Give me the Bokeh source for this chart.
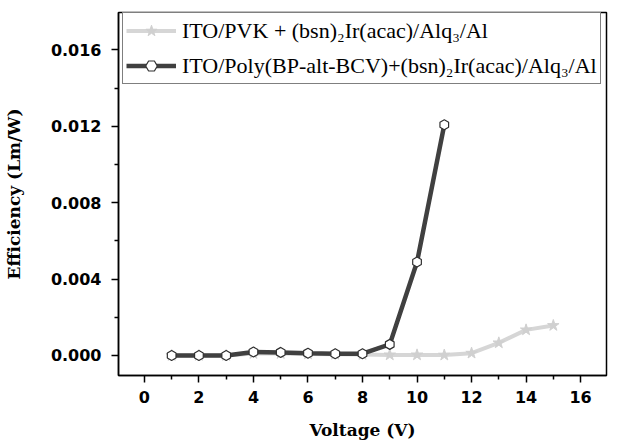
from bokeh.plotting import figure
from bokeh.models import Range1d, FixedTicker, Legend, LegendItem
from bokeh.embed import file_html
from bokeh.resources import INLINE

# ---- data ----
voltage_pvk = [1, 2, 3, 4, 5, 6, 7, 8, 9, 10, 11, 12, 13, 14, 15]
eff_pvk = [0.0, 0.0, 0.0, 0.00010, 0.00010, 0.00008, 0.00006, 0.00005, 0.00003,
           0.00003, 0.00002, 0.00012, 0.00066, 0.00134, 0.00157]
voltage_poly = [1, 2, 3, 4, 5, 6, 7, 8, 9, 10, 11]
eff_poly = [0.0, 0.0, 0.0, 0.00018, 0.00016, 0.00012, 0.00009, 0.00009, 0.00058,
            0.00489, 0.01208]
label_pvk = "ITO/PVK + (bsn)\u2082Ir(acac)/Alq\u2083/Al"
label_poly = "ITO/Poly(BP-alt-BCV)+(bsn)\u2082Ir(acac)/Alq\u2083/Al"
x_ticks = [0, 2, 4, 6, 8, 10, 12, 14, 16]
x_minor = [1, 3, 5, 7, 9, 11, 13, 15]
y_ticks = [0.0, 0.004, 0.008, 0.012, 0.016]
y_tick_labels = ["0.000", "0.004", "0.008", "0.012", "0.016"]
y_minor = [0.002, 0.006, 0.010, 0.014]

p = figure(width=632, height=443, output_backend="svg", toolbar_location=None,
           x_range=Range1d(-0.95, 16.95), y_range=Range1d(-0.00105, 0.01796),
           min_border_left=117, min_border_right=26, min_border_top=12,
           min_border_bottom=68)
p.grid.visible = False
p.outline_line_color = "black"
p.outline_line_width = 1.5
p.background_fill_color = "white"
p.border_fill_color = "white"

# series
l1 = p.line(voltage_pvk, eff_pvk, line_color="#d6d6d6", line_width=4)
s1 = p.scatter(voltage_pvk, eff_pvk, marker="star", size=12,
               fill_color="#d0d0d0", line_color="#d0d0d0")
l2 = p.line(voltage_poly, eff_poly, line_color="#404040", line_width=4.5)
s2 = p.scatter(voltage_poly, eff_poly, marker="hex", size=10, angle=0.52,
               fill_color="white", line_color="#303030", line_width=1.2)

# axes
xa = p.xaxis[0]
xa.ticker = FixedTicker(ticks=x_ticks, minor_ticks=x_minor)
ya = p.yaxis[0]
ya.ticker = FixedTicker(ticks=y_ticks, minor_ticks=y_minor)
ya.major_label_overrides = {t: l for t, l in zip(y_ticks, y_tick_labels)}

for ax in (xa, ya):
    ax.axis_line_width = 1.5
    ax.major_tick_line_width = 1.5
    ax.minor_tick_line_width = 1.5
    ax.major_tick_out = 7
    ax.major_tick_in = 0
    ax.minor_tick_out = 4
    ax.minor_tick_in = 0
    ax.major_label_text_font = "DejaVu Sans"
    ax.major_label_text_font_style = "bold"
    ax.major_label_text_font_size = "16px"
    ax.major_label_text_color = "black"
    ax.axis_label_text_font = "DejaVu Serif"
    ax.axis_label_text_font_style = "bold"
    ax.axis_label_text_font_size = "17px"
    ax.axis_label_text_color = "black"

xa.axis_label = "Voltage (V)"
xa.major_label_standoff = 8
xa.axis_label_standoff = 14
ya.axis_label = "Efficiency (Lm/W)"
ya.major_label_standoff = 10
ya.axis_label_standoff = 24

legend = Legend(items=[LegendItem(label=label_pvk, renderers=[l1, s1]),
                       LegendItem(label=label_poly, renderers=[l2, s2])],
                location=(4, 291))
legend.label_text_font = "Liberation Serif"
legend.label_text_font_size = "22px"
legend.label_text_color = "black"
legend.glyph_width = 50
legend.glyph_height = 29
legend.label_height = 29
legend.label_standoff = 6
legend.spacing = 6
legend.padding = 3
legend.margin = 0
legend.border_line_color = "black"
legend.border_line_width = 1.5
legend.background_fill_alpha = 1.0
p.add_layout(legend)

open("out.html", "w").write(file_html(p, INLINE))
